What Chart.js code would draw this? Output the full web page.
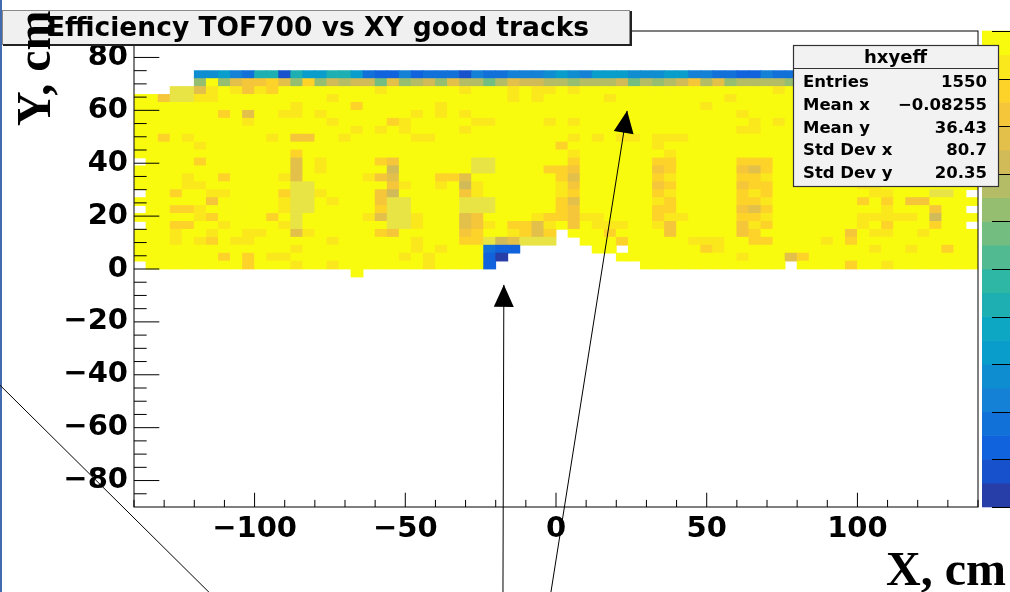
<!DOCTYPE html>
<html><head><meta charset="utf-8">
<script src="https://cdn.jsdelivr.net/npm/chart.js@4.4.1/dist/chart.umd.min.js"></script>
<style>html,body{margin:0;padding:0;background:#fff;overflow:hidden}canvas{display:block}</style>
</head><body>
<canvas id="c" width="1010" height="592"></canvas>
<script>
// ---------------- data ----------------
const TITLE = 'Efficiency TOF700 vs XY good tracks';
const X_TITLE = 'X, cm';
const Y_TITLE = 'Y, cm';
const X_RANGE = [-140, 140];
const Y_RANGE = [-90, 90];
const X_MAJOR = [-100, -50, 0, 50, 100];
const X_LABELS = ['\u2212100', '\u221250', '0', '50', '100'];
const X_MINOR = [-140,-130,-120,-110,-90,-80,-70,-60,-40,-30,-20,-10,10,20,30,40,60,70,80,90,110,120,130,140];
const Y_MAJOR = [-80, -60, -40, -20, 0, 20, 40, 60, 80];
const Y_LABELS = ['\u221280','\u221260','\u221240','\u221220','0','20','40','60','80'];
const Y_MINOR = [-85,-75,-70,-65,-55,-50,-45,-35,-30,-25,-15,-10,-5,5,10,15,25,30,35,45,50,55,65,70,75,85];

// histogram binning
const X_BIN_LOW = -140, X_BIN_WIDTH = 4;
const Y_BIN_LOW = -3, Y_BIN_HEIGHT = 3;

// efficiency per cell, encoded as colour level 0..19 ('0'-'9','a'-'j'),
// 'p' = above range, '.' = empty bin. First row = top bin (72..75 cm).
const LEVEL_CODES = '0123456789abcdefghij';
const EFF_ROWS = [
  ".....55643 8818668863 2242333143 3444565466 6555664433 2243334543 45434.....",
  ".....cjcfg ghfchcedee bfcdecfddb dfeeddcddd ebdcdegdfc ddddcdedcd edcde.....",
  "...ppfijig ihjjjjjjjj ijjjjjjijj jijiijijjj jjjjjjjjjj jjjijjjjjj jjjjjjjjjj",
  "jjgppiijjj jjjjjjijjj jjjjjjjjjj jijijjjjji jjjjjjjjji jjjjjjjjjj jjjjjjjjjj",
  "jjjjjjjjjj jjjijjjjhj jjjjjijjjj jjjjjjjjjj jjjjjjjijj jjjjjjjjjj jjjjjjjjjj",
  "jjjjjjjhjf jjiijijjjj jjjijijijj jjjjjjjjjj jjjjjjjjjj ijjjjjjjjj jjjjjjjjjj",
  "jjjjjjjjji jjjjjjijjj jhijjjjjii jjjjijijjj jjjjjjjjjj jijijjjjjj jjjjjjjjjj",
  "jjjjjjjjjj jjjjjjjjij ijijjjjijj jjjjjjjjjj jjjjjjjjjj iijjjjjjjj jjjjjjjjjj",
  "jjhjijjjjj jijggjjijj jjjiijjjjj jjjjjjijij iijiiijjjj jjjjjjjijj jjjjjjjjjj",
  "jjjjjijjjj jjjjjjjjjj jjjjjjjjjj jjjjjhjjjj jjjijjjjjj jjjjjjjjjj jjjjjjjjjj",
  "jjjjjjjjjj jjjhjjjjjj jjjjjjjjjj jjjjjjijjj jjjjijjjjj jjjjjjjjjj jjjjjjjjjj",
  ".jjjjhjjjj jjjfjijjjj hgjjjjjjpp jjjjjjhjjj jjjhhjjjjj hhhjjjjjjj jjjjjjjjjj",
  "jjjjjjjjjj jjjfjijjjj jejjjjjjpp jjjjhhgjjj jjjghjjjjj gfhjjjjjjj jjjjjjjjjj",
  "jjjjijjhjj jjifjjjjji gfjjjhhfjj jjjjjhfjjj jjjhijjjjj hhijjjjjjj jjjjjjjjjj",
  "jjjjiijjjj jjjppjjjjj jgijjijeij jjjjjigjjj jjjghjjjjj ghhjjjjjjj iijjjjjjjj",
  ".jjhjjiijj jjhppijjjj gejjjjjgij jjjjjihjjj jjjhijjjjj hihjjjjjjj jiijjjppj.",
  "jjjjjjgjjj jjippjijjj gppjjjjppp jjjjjhfjjj jjjihjjjjj hhijjjjjjj hjhjggjjjj",
  ".jjhhijjjj jjippjjjjj hppjjjjppp jjjjjhgjjj jjjhhjjjjj gfhjjjjjjj jjijjjgjj.",
  "jjjjjihjjj jhjpjjjjji fppijjjfgj jjjihhgiij jjjhiijjjj hhijjjjjjj iiiiijejjj",
  ".jjhhjjijj jjipjjjjjj jppijjjfgi jhhfijgjii ijjigjjjjj gihjjjjjjj ijhjjjhjj.",
  "jjjijjijji ijjfijjjjj hgjjjjjghj jihfh.jjjh jjjjgjjjjj ghjjjjjjjg jiijjijjjj",
  "jjjijihjii jjjjjjijjj jjjijjjhhp efppp..jjj hjjjjjiiij jhhjjjjijh jjjjjjjjjj",
  "jjjjjjjjjj jjjijjjjjj jjjijijjj3 22......jj .jjjjjjhij jjjjjjjjjj jijjijjhjj",
  "jjjjjjjhjh jiijjjjjjj jjijijjjj2 0......... jjjjjjjjjj ijjjfhjjjj jjjjjjjjjj",
  ".jjjjjjjjh jjjijjijjj jjjjijjjj2 .......... ..jjjjjjjj jjjj.jjjjh jjijjjjjjj",
  ".......... ........j. .......... .......... .......... .......... .........."
];

const Z_MIN = 0, Z_MAX = 1, Z_LEVELS = 20;

const STATS_NAME = 'hxyeff';
const STATS_LABELS = ['Entries', 'Mean x', 'Mean y', 'Std Dev x', 'Std Dev y'];
const STATS_VALUES = ['1550', '\u22120.08255', '36.43', '80.7', '20.35'];

// annotation lines in plot coordinates (cm)
const ARROWS = [
  {x1: -17.6, y1: -125, x2: -17.3, y2: -6.0, head: true},
  {x1: -2.1, y1: -125.2, x2: 23.6, y2: 59.8, head: true},
  {x1: -184.5, y1: -43.9, x2: -112.5, y2: -125.2, head: false}
];

// ---------------- palette (ROOT kBird) ----------------
const BIRD_S = [0, .125, .25, .375, .5, .625, .75, .875, 1];
const BIRD_R = [0.2082, 0.0592, 0.0780, 0.0232, 0.1802, 0.5301, 0.8186, 0.9956, 0.9764];
const BIRD_G = [0.1664, 0.3599, 0.5041, 0.6419, 0.7178, 0.7492, 0.7328, 0.7862, 0.9832];
const BIRD_B = [0.5293, 0.8684, 0.8385, 0.7914, 0.6425, 0.4662, 0.3499, 0.1968, 0.0539];
function bird(t) {
  let i = 0;
  while (i < BIRD_S.length - 2 && t > BIRD_S[i + 1]) i++;
  const f = (t - BIRD_S[i]) / (BIRD_S[i + 1] - BIRD_S[i]);
  const c = a => Math.round(255 * (a[i] + (a[i + 1] - a[i]) * f));
  return 'rgb(' + c(BIRD_R) + ',' + c(BIRD_G) + ',' + c(BIRD_B) + ')';
}
function levelColor(i) {
  const k = Math.floor((i + 0.99) * 255 / Z_LEVELS);
  return bird(k / 254);
}
const OVER_COLOR = 'rgb(233,228,70)';
function valueColor(v) {
  if (v > Z_MAX) return OVER_COLOR;
  const lvl = Math.max(0, Math.min(Z_LEVELS - 1, Math.floor((v - Z_MIN) / (Z_MAX - Z_MIN) * Z_LEVELS)));
  return levelColor(lvl);
}

// ---------------- build cells ----------------
const cells = [];
const nRows = EFF_ROWS.length;
EFF_ROWS.forEach((row, k) => {
  const s = row.replace(/ /g, '');
  const y0 = Y_BIN_LOW + (nRows - 1 - k) * Y_BIN_HEIGHT;
  for (let c = 0; c < s.length; c++) {
    const ch = s[c];
    if (ch === '.') continue;
    const v = ch === 'p' ? 1.02 : (LEVEL_CODES.indexOf(ch) + 0.5) / Z_LEVELS;
    cells.push({x: X_BIN_LOW + (c + 0.5) * X_BIN_WIDTH, y: [y0, y0 + Y_BIN_HEIGHT], v});
  }
});

// ---------------- decorations (ROOT style) ----------------
const SANS = '"DejaVu Sans", sans-serif';
const SERIF = '"Liberation Serif", "Times New Roman", serif';
const rootDecor = {
  id: 'rootDecor',
  beforeDraw(chart) {
    const ctx = chart.ctx;
    ctx.save();
    ctx.fillStyle = '#fff';
    ctx.fillRect(0, 0, chart.width, chart.height);
    ctx.fillStyle = 'rgb(66,106,172)';
    ctx.fillRect(0, 0, 2, chart.height);
    ctx.restore();
  },
  afterDatasetsDraw(chart) {
    const ctx = chart.ctx, a = chart.chartArea;
    const xs = chart.scales.x, ys = chart.scales.y;
    ctx.save();
    // frame
    ctx.strokeStyle = '#000';
    ctx.lineWidth = 1;
    ctx.strokeRect(a.left, a.top, a.right - a.left, a.bottom - a.top);
    // ticks (inside)
    const W = a.right - a.left, H = a.bottom - a.top;
    const yl = 0.03 * W, xl = 0.03 * H;
    ctx.beginPath();
    Y_MAJOR.forEach(v => { const p = ys.getPixelForValue(v); ctx.moveTo(a.left, p); ctx.lineTo(a.left + yl, p); });
    Y_MINOR.forEach(v => { const p = ys.getPixelForValue(v); ctx.moveTo(a.left, p); ctx.lineTo(a.left + yl / 2, p); });
    X_MAJOR.forEach(v => { const p = xs.getPixelForValue(v); ctx.moveTo(p, a.bottom); ctx.lineTo(p, a.bottom - xl); });
    X_MINOR.forEach(v => { const p = xs.getPixelForValue(v); ctx.moveTo(p, a.bottom); ctx.lineTo(p, a.bottom - xl / 2); });
    ctx.stroke();
    // colour palette bar
    const bx0 = a.right + 4, bx1 = chart.width + 2;
    const bh = H / Z_LEVELS;
    for (let i = 0; i < Z_LEVELS; i++) {
      ctx.fillStyle = levelColor(i);
      ctx.fillRect(bx0, a.bottom - (i + 1) * bh - 0.3, bx1 - bx0, bh + 0.6);
    }
    ctx.beginPath();
    for (let i = 0; i <= Z_LEVELS; i += 2) {
      const p = Math.round(a.bottom - i * bh) + 0.5;
      ctx.moveTo(bx0 + 10, p); ctx.lineTo(bx1, p);
    }
    ctx.strokeStyle = '#000';
    ctx.stroke();
    ctx.restore();
  },
  afterDraw(chart) {
    const ctx = chart.ctx, a = chart.chartArea;
    const xs = chart.scales.x, ys = chart.scales.y;
    ctx.save();
    // title box
    ctx.fillStyle = '#f0f0f0';
    ctx.fillRect(2, 10, 628, 35);
    ctx.strokeStyle = '#8a8a8a';
    ctx.lineWidth = 1;
    ctx.strokeRect(2.5, 10.5, 627, 34);
    ctx.strokeStyle = '#222';
    ctx.lineWidth = 2;
    ctx.beginPath();
    ctx.moveTo(3, 45); ctx.lineTo(631, 45); ctx.lineTo(631, 11);
    ctx.stroke();
    ctx.fillStyle = '#000';
    ctx.font = 'bold 26.5px ' + SANS;
    ctx.textAlign = 'center';
    ctx.textBaseline = 'alphabetic';
    ctx.fillText(TITLE, 318, 36);
    // axis titles
    ctx.font = 'bold 48px ' + SERIF;
    ctx.textAlign = 'right';
    ctx.fillText(X_TITLE, 1006, 585);
    ctx.save();
    ctx.translate(50, 126);
    ctx.rotate(-Math.PI / 2);
    ctx.textAlign = 'left';
    ctx.fillText(Y_TITLE, 0, 0);
    ctx.restore();
    // stats box
    const sx0 = 793, sx1 = 998, sy0 = 45, sy1 = 186;
    ctx.fillStyle = '#f2f2f2';
    ctx.fillRect(sx0, sy0, sx1 - sx0, sy1 - sy0);
    ctx.strokeStyle = '#333';
    ctx.lineWidth = 1.2;
    ctx.strokeRect(sx0 + 0.5, sy0 + 0.5, sx1 - sx0, sy1 - sy0);
    ctx.beginPath();
    ctx.moveTo(sx0, 68.5); ctx.lineTo(sx1, 68.5);
    ctx.stroke();
    ctx.fillStyle = '#000';
    ctx.font = 'bold 18px ' + SANS;
    ctx.textAlign = 'center';
    ctx.fillText(STATS_NAME, (sx0 + sx1) / 2, 63);
    ctx.font = 'bold 16.5px ' + SANS;
    STATS_LABELS.forEach((lab, i) => {
      const by = 87 + i * 22.8;
      ctx.textAlign = 'left';
      ctx.fillText(lab, 803, by);
      ctx.textAlign = 'right';
      ctx.fillText(STATS_VALUES[i], 987, by);
    });
    // arrows
    ctx.strokeStyle = '#000';
    ctx.fillStyle = '#000';
    ctx.lineWidth = 1;
    ARROWS.forEach(ar => {
      const x1 = xs.getPixelForValue(ar.x1), y1 = ys.getPixelForValue(ar.y1);
      const x2 = xs.getPixelForValue(ar.x2), y2 = ys.getPixelForValue(ar.y2);
      ctx.beginPath();
      ctx.moveTo(x1, y1); ctx.lineTo(x2, y2);
      ctx.stroke();
      if (ar.head) {
        const ang = Math.atan2(y2 - y1, x2 - x1);
        const L = 22, Wd = 10;
        const bx = x2 - L * Math.cos(ang), by = y2 - L * Math.sin(ang);
        ctx.beginPath();
        ctx.moveTo(x2, y2);
        ctx.lineTo(bx + Wd * Math.sin(ang), by - Wd * Math.cos(ang));
        ctx.lineTo(bx - Wd * Math.sin(ang), by + Wd * Math.cos(ang));
        ctx.closePath();
        ctx.fill();
      }
    });
    ctx.restore();
  }
};

// ---------------- chart ----------------
const tickFont = {family: SANS, size: 29, weight: 'bold'};
new Chart(document.getElementById('c'), {
  type: 'bar',
  data: {
    datasets: [{
      data: cells,
      backgroundColor: ctx => (ctx.raw ? valueColor(ctx.raw.v) : 'rgba(0,0,0,0)'),
      borderWidth: 0,
      barPercentage: 1,
      categoryPercentage: 1,
      inflateAmount: 0.4
    }]
  },
  options: {
    responsive: false,
    animation: false,
    devicePixelRatio: 1,
    events: [],
    layout: {padding: {left: 34, right: 32, top: 31, bottom: 35}},
    plugins: {legend: {display: false}, tooltip: {enabled: false}, title: {display: false}},
    scales: {
      x: {
        type: 'linear', min: X_RANGE[0], max: X_RANGE[1], offset: false,
        grid: {display: false, drawTicks: false}, border: {display: false},
        afterBuildTicks: s => { s.ticks = X_MAJOR.map(v => ({value: v})); },
        afterFit: s => { s.height = 50; },
        ticks: {autoSkip: false, maxRotation: 0, minRotation: 0, padding: 5, color: '#000', font: tickFont,
                callback: (v, i) => X_LABELS[X_MAJOR.indexOf(v)]}
      },
      y: {
        type: 'linear', min: Y_RANGE[0], max: Y_RANGE[1],
        grid: {display: false, drawTicks: false}, border: {display: false},
        afterBuildTicks: s => { s.ticks = Y_MAJOR.map(v => ({value: v})); },
        afterFit: s => { s.width = 100; },
        ticks: {autoSkip: false, padding: 6, color: '#000', font: tickFont,
                callback: (v, i) => Y_LABELS[Y_MAJOR.indexOf(v)]}
      }
    }
  },
  plugins: [rootDecor]
});
</script>
</body></html>
